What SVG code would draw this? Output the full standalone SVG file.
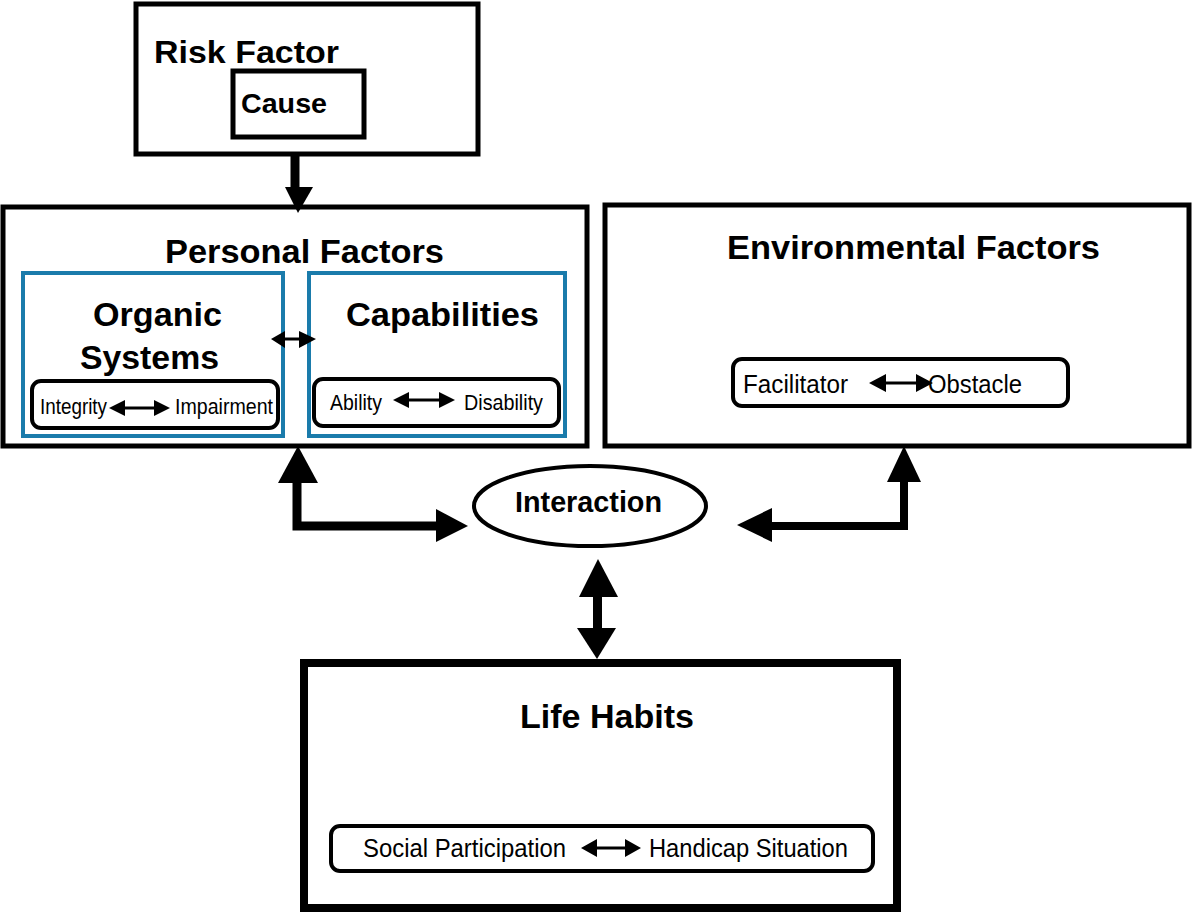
<svg xmlns="http://www.w3.org/2000/svg" width="1193" height="915" viewBox="0 0 1193 915">
<defs>
<style>
.box{fill:#fff;stroke:#000;stroke-width:5}
.blue{fill:#fff;stroke:#1a7bab;stroke-width:4}
.pill{fill:#fff;stroke:#000;stroke-width:4}
.t{font-family:"Liberation Sans",Arial,sans-serif;font-weight:bold;fill:#000}
.s{font-family:"Liberation Sans",Arial,sans-serif;fill:#000}
.c{fill:none;stroke:#000}
.h{fill:#000;stroke:none}
</style>
</defs>
<rect width="1193" height="915" fill="#fff"/>
<g id="risk-factor">
<rect class="box" x="136" y="4" width="342" height="150"/>
<text class="t" x="154" y="63" font-size="31" textLength="185" lengthAdjust="spacingAndGlyphs">Risk Factor</text>
<rect class="box" x="233" y="71" width="131" height="66"/>
<text class="t" x="241" y="113" font-size="28" textLength="86" lengthAdjust="spacingAndGlyphs">Cause</text>
</g>
<g id="personal-factors">
<rect class="box" x="3" y="207" width="584" height="239"/>
<text class="t" x="165" y="263" font-size="33" textLength="279" lengthAdjust="spacingAndGlyphs">Personal Factors</text>
</g>
<g id="organic-systems">
<rect class="blue" x="23" y="273" width="260" height="163"/>
<text class="t" x="93" y="326" font-size="34" textLength="129" lengthAdjust="spacingAndGlyphs">Organic</text>
<text class="t" x="80" y="369" font-size="34" textLength="139" lengthAdjust="spacingAndGlyphs">Systems</text>
<rect class="pill" x="32" y="381" width="246" height="47" rx="9"/>
<text class="s" x="40" y="414" font-size="22" textLength="67" lengthAdjust="spacingAndGlyphs">Integrity</text>
<text class="s" x="175" y="414" font-size="22" textLength="98" lengthAdjust="spacingAndGlyphs">Impairment</text>
<path class="h" d="M109,408 L125,400 L125,416 Z M170,408 L154,400 L154,416 Z"/>
<line class="c" x1="124" y1="408" x2="155" y2="408" stroke-width="3"/>
</g>
<g id="capabilities">
<rect class="blue" x="309" y="273" width="256" height="163"/>
<text class="t" x="346" y="326" font-size="34" textLength="193" lengthAdjust="spacingAndGlyphs">Capabilities</text>
<rect class="pill" x="314" y="379" width="245" height="47" rx="9"/>
<text class="s" x="330" y="410" font-size="22" textLength="52" lengthAdjust="spacingAndGlyphs">Ability</text>
<text class="s" x="464" y="410" font-size="22" textLength="79" lengthAdjust="spacingAndGlyphs">Disability</text>
<path class="h" d="M393,400 L409,392 L409,408 Z M455,400 L439,392 L439,408 Z"/>
<line class="c" x1="408" y1="400" x2="440" y2="400" stroke-width="3"/>
</g>
<g id="environmental-factors">
<rect class="box" x="605" y="205" width="584" height="241"/>
<text class="t" x="727" y="259" font-size="33" textLength="373" lengthAdjust="spacingAndGlyphs">Environmental Factors</text>
<rect class="pill" x="733" y="359" width="335" height="47" rx="9"/>
<text class="s" x="743" y="393" font-size="26" textLength="105" lengthAdjust="spacingAndGlyphs">Facilitator</text>
<text class="s" x="928" y="393" font-size="26" textLength="94" lengthAdjust="spacingAndGlyphs">Obstacle</text>
<path class="h" d="M869,383 L886,374 L886,392 Z M933,383 L916,374 L916,392 Z"/>
<line class="c" x1="885" y1="383" x2="917" y2="383" stroke-width="3"/>
</g>
<g id="interaction">
<ellipse cx="590" cy="506" rx="116" ry="40" fill="#fff" stroke="#000" stroke-width="4"/>
<text class="t" x="515" y="512" font-size="30" textLength="147" lengthAdjust="spacingAndGlyphs">Interaction</text>
</g>
<g id="life-habits">
<rect x="304" y="663" width="593" height="245" fill="#fff" stroke="#000" stroke-width="8"/>
<text class="t" x="520" y="728" font-size="34" textLength="174" lengthAdjust="spacingAndGlyphs">Life Habits</text>
<rect class="pill" x="331" y="826" width="542" height="45" rx="9"/>
<text class="s" x="363" y="857" font-size="25" textLength="203" lengthAdjust="spacingAndGlyphs">Social Participation</text>
<text class="s" x="649" y="857" font-size="25" textLength="199" lengthAdjust="spacingAndGlyphs">Handicap Situation</text>
<path class="h" d="M581,848 L597,839 L597,857 Z M641,848 L625,839 L625,857 Z"/>
<line class="c" x1="596" y1="848" x2="626" y2="848" stroke-width="3"/>
</g>
<g id="connectors">
<line class="c" x1="295" y1="154" x2="295" y2="189" stroke-width="9"/>
<polygon class="h" points="285,187 313,187 298,213"/>
<path class="h" d="M271,339 L285,331 L285,348 Z M316,339 L299,331 L299,348 Z"/>
<line class="c" x1="284" y1="339" x2="300" y2="339" stroke-width="3"/>
<polygon class="h" points="298,446 278,483 318,483"/>
<path class="c" d="M297,482 L297,526 L437,526" stroke-width="9"/>
<polygon class="h" points="436,509 436,542 468,526"/>
<polygon class="h" points="904,446 887,482 921,482"/>
<path class="c" d="M904,481 L904,526 L771,526" stroke-width="8"/>
<polygon class="h" points="772,508 772,542 737,525"/>
<polygon class="h" points="598,559 579,597 618,597"/>
<line class="c" x1="597.5" y1="596" x2="597.5" y2="629" stroke-width="9"/>
<polygon class="h" points="577,628 616,628 597,659"/>
</g>
</svg>
